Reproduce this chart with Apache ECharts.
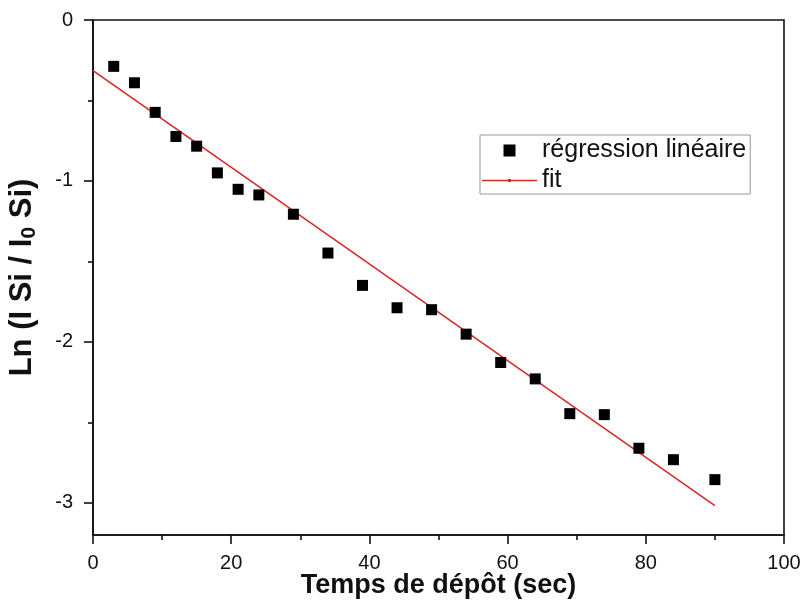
<!DOCTYPE html>
<html>
<head>
<meta charset="utf-8">
<title>Ln (I Si / I0 Si) vs temps de dépôt</title>
<script src="https://cdn.jsdelivr.net/npm/echarts@6/dist/echarts.min.js"></script>
<style>
  html, body { margin: 0; padding: 0; background: #fff; }
  #chart { width: 803px; height: 603px; }
</style>
</head>
<body>
<div id="chart"></div>
<script>
// Deposition time (s) and measured Ln(I Si / I0 Si)
const depositTime = [3, 6, 9, 12, 15, 18, 21, 24, 29, 34, 39, 44, 49, 54, 59, 64, 69, 74, 79, 84, 90];
const lnRatio = [-0.288, -0.39, -0.574, -0.724, -0.784, -0.950, -1.052, -1.087, -1.207, -1.448,
                 -1.649, -1.788, -1.800, -1.952, -2.128, -2.230, -2.446, -2.452, -2.661, -2.732, -2.856];

// Linear fit end points
const fitTime = [0, 90];
const fitValue = [-0.315, -3.018];

// Axis ticks
const yMajorTicks = [0, -1, -2, -3];
const yMinorTicks = [-0.5, -1.5, -2.5];

const FONT = 'Liberation Sans, Arial, sans-serif';
const INK = '#111';

const chart = echarts.init(document.getElementById('chart'));

const axisLine = { show: true, onZero: false, lineStyle: { color: INK, width: 1.6 } };

chart.setOption({
  animation: false,
  backgroundColor: '#fff',
  grid: {
    left: 93, right: 19, top: 20, bottom: 68,
    outerBoundsMode: 'none',
    containLabel: false,
    show: true, borderColor: INK, borderWidth: 1.6, backgroundColor: 'transparent'
  },
  legend: {
    orient: 'vertical',
    left: 480, top: 135,
    borderColor: '#999', borderWidth: 1,
    padding: [3, 4, 1, 2],
    itemGap: 5,
    itemWidth: 55, itemHeight: 12,
    textStyle: { fontFamily: FONT, fontSize: 25, color: INK },
    data: [
      { name: 'régression linéaire', icon: 'path://M0,0L10,0L10,10L0,10Z' },
      { name: 'fit', icon: 'path://M0,5.25H55V6.75H0Z M26,4.5H29V7.5H26Z' }
    ]
  },
  xAxis: {
    type: 'value',
    min: 0, max: 100, interval: 20,
    name: 'Temps de dépôt (sec)',
    nameLocation: 'middle',
    nameGap: 37,
    nameMoveOverlap: false,
    nameTextStyle: { fontFamily: FONT, fontSize: 27, fontWeight: 'bold', color: INK },
    axisLine: axisLine,
    axisTick: { show: true, inside: false, length: 9, lineStyle: { color: INK, width: 1.6 } },
    minorTick: { show: true, splitNumber: 2, length: 5, lineStyle: { color: INK, width: 1.6 } },
    axisLabel: { fontFamily: FONT, fontSize: 20, color: INK, margin: 18 },
    splitLine: { show: false }
  },
  yAxis: [
    {
      type: 'value',
      min: -3.2, max: 0,
      name: '{t|Ln (I Si / I}{s|0}{t| Si)}',
      nameLocation: 'middle',
      nameGap: 53,
      nameMoveOverlap: false,
      nameTextStyle: {
        rich: {
          t: { fontFamily: FONT, fontSize: 31, fontWeight: 'bold', color: INK },
          s: { fontFamily: FONT, fontSize: 21, fontWeight: 'bold', color: INK, padding: [14, 0, 0, 0] }
        }
      },
      axisLine: axisLine,
      axisTick: { show: true, length: 9, customValues: yMajorTicks, lineStyle: { color: INK, width: 1.6 } },
      axisLabel: { fontFamily: FONT, fontSize: 20, color: INK, margin: 20, customValues: yMajorTicks },
      splitLine: { show: false }
    },
    {
      // minor ticks on the left axis
      type: 'value',
      position: 'left',
      min: -3.2, max: 0,
      axisLine: { show: false, onZero: false },
      axisTick: { show: true, length: 5, customValues: yMinorTicks, lineStyle: { color: INK, width: 1.6 } },
      axisLabel: { show: false },
      splitLine: { show: false }
    }
  ],
  series: [
    {
      name: 'régression linéaire',
      type: 'scatter',
      symbol: 'rect',
      symbolSize: 11,
      itemStyle: { color: '#000', opacity: 1 },
      data: depositTime.map((t, i) => [t, lnRatio[i]]),
      z: 3
    },
    {
      name: 'fit',
      type: 'line',
      symbol: 'circle',
      symbolSize: 3,
      showSymbol: false,
      lineStyle: { color: '#d42a2a', width: 1.6 },
      itemStyle: { color: '#d42a2a' },
      data: fitTime.map((t, i) => [t, fitValue[i]]),
      z: 2
    }
  ]
});
</script>
</body>
</html>
